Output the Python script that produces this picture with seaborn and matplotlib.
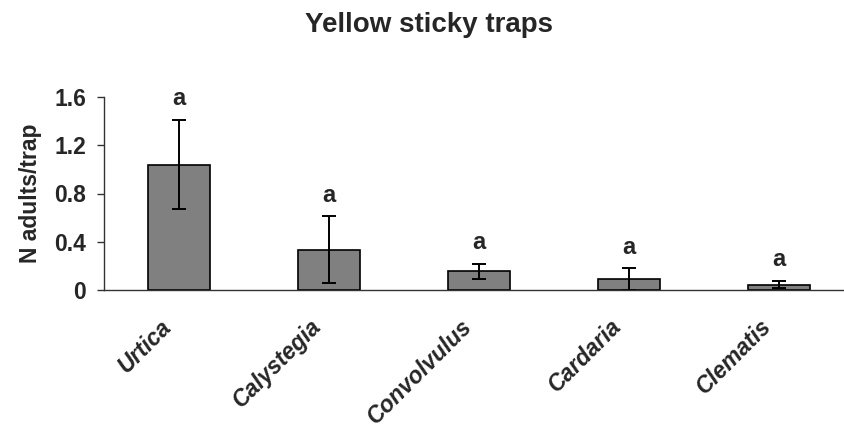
import numpy as np
import seaborn as sns
import matplotlib.pyplot as plt
import matplotlib.transforms as mtransforms


"""Data"""

Plants = ["Urtica", "Calystegia", "Convolvulus", "Cardaria", "Clematis"]
Mean_Adults = [1.04, 0.335, 0.155, 0.09, 0.045]
Std_Error = [0.37, 0.275, 0.06, 0.09, 0.03]
Letters = ["a", "a", "a", "a", "a"]


"""Plot"""

sns.set_style("white")
plt.rcParams['font.family'] = ['Liberation Sans', 'DejaVu Sans']

Figure = plt.figure(figsize=(8.44, 4.30), dpi=100)
Axis = Figure.add_axes([0.1232, 0.3256, 0.8886, 0.4488])

sns.barplot(x=Plants, y=Mean_Adults, color="#808080", edgecolor="black",
            linewidth=1.2, width=0.41, saturation=1, errorbar=None, ax=Axis)
Axis.errorbar(np.arange(len(Plants)), Mean_Adults, yerr=Std_Error, fmt="none",
              ecolor="black", elinewidth=1.4, capsize=5, capthick=1.4)

for i, Letter in enumerate(Letters):
    Axis.annotate(Letter, xy=(i, Mean_Adults[i] + Std_Error[i]), xytext=(0, 7),
                  textcoords="offset points", ha="center", va="bottom",
                  fontsize=17, fontweight="bold")

Axis.set_xlim(-0.5, 4.5)
Axis.set_ylim(0, 1.6)
Axis.set_yticks([0, 0.4, 0.8, 1.2, 1.6])
Axis.set_yticklabels(["0", "0.4", "0.8", "1.2", "1.6"], fontsize=16.5, fontweight="bold")
Axis.set_xticks(np.arange(len(Plants)))
Axis.set_xticklabels(Plants, rotation=45, ha="right", rotation_mode="anchor",
                     fontsize=16.5, fontweight="bold", fontstyle="italic")
Axis.set_xticks(np.arange(-0.5, 5, 1), minor=True)
Axis.tick_params(axis="x", which="major", length=0, pad=18)
Axis.tick_params(axis="x", which="minor", length=6, width=1, direction="out", color="#333333")
Axis.tick_params(axis="y", length=5, width=1, direction="out", pad=8, left=True, color="#333333")
Axis.set_ylabel("N adults/trap", fontsize=16.5, fontweight="bold", labelpad=9)

# shift the slanted names left so they end under the bars like the original
Shift = mtransforms.ScaledTranslation(-19 / 100, 0, Figure.dpi_scale_trans)
for Label in Axis.get_xticklabels():
    Label.set_transform(Label.get_transform() + Shift)

sns.despine(ax=Axis)
for Spine in ["left", "bottom"]:
    Axis.spines[Spine].set_color("#333333")
    Axis.spines[Spine].set_linewidth(1)

Figure.text(0.508, 1 - 32 / 430, "Yellow sticky traps", ha="center", va="baseline",
            fontsize=20, fontweight="bold")

Figure.savefig("out.png", dpi=100)
